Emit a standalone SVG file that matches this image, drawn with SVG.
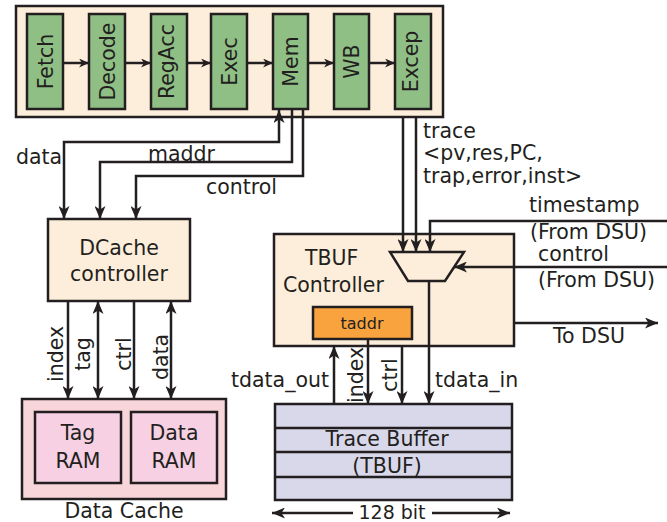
<svg xmlns="http://www.w3.org/2000/svg" width="667" height="522" viewBox="0 0 667 522">
  <style>
    text { font-family: "DejaVu Sans", "Liberation Sans", sans-serif; font-size: 20.5px; fill: #231f20; }
    .box { stroke: #231f20; stroke-width: 2.5; }
    .peach { fill: #fdeedb; }
    .stage { fill: #8fbf84; stroke: #231f20; stroke-width: 2.5; }
    .wire { fill: none; stroke: #231f20; stroke-width: 2.5; }
    .mid { text-anchor: middle; }
  </style>
  <defs>
    <marker id="ah" markerUnits="userSpaceOnUse" markerWidth="14" markerHeight="11" refX="13" refY="5.5" orient="auto-start-reverse" viewBox="0 0 14 11">
      <path d="M0,0 L13,5.5 L0,11 L3.5,5.5 z" fill="#231f20"/>
    </marker>
    <marker id="ahs" markerUnits="userSpaceOnUse" markerWidth="11" markerHeight="9" refX="10" refY="4.5" orient="auto" viewBox="0 0 11 9">
      <path d="M0,0 L10,4.5 L0,9 L3,4.5 z" fill="#231f20"/>
    </marker>
  </defs>

  <!-- pipeline -->
  <g id="pipeline">
    <rect class="box peach" x="16" y="6" width="427" height="111"/>
  </g>
  <g id="fetch"><rect class="stage" x="27" y="14" width="36" height="95"/><text class="mid" transform="translate(52.8,61.5) rotate(-90)">Fetch</text></g>
  <g id="decode"><rect class="stage" x="89" y="14" width="36" height="95"/><text class="mid" transform="translate(114.8,61.5) rotate(-90)">Decode</text></g>
  <g id="regacc"><rect class="stage" x="151" y="14" width="36" height="95"/><text class="mid" transform="translate(174.1,61.5) rotate(-90)">RegAcc</text></g>
  <g id="exec"><rect class="stage" x="211" y="14" width="36" height="95"/><text class="mid" transform="translate(236.5,61.5) rotate(-90)">Exec</text></g>
  <g id="mem"><rect class="stage" x="273" y="14" width="35" height="95"/><text class="mid" transform="translate(298,61.5) rotate(-90)">Mem</text></g>
  <g id="wb"><rect class="stage" x="334" y="14" width="35" height="95"/><text class="mid" transform="translate(359,61.5) rotate(-90)">WB</text></g>
  <g id="excep"><rect class="stage" x="395" y="14" width="36" height="95"/><text class="mid" transform="translate(418.1,61.5) rotate(-90)">Excep</text></g>

  <!-- data cache controller -->
  <g id="dcache-ctrl">
    <rect class="box peach" x="48" y="219" width="142" height="82"/>
    <text class="mid" x="119" y="255">DCache</text>
    <text class="mid" x="119" y="281">controller</text>
  </g>

  <!-- data cache -->
  <g id="data-cache">
    <rect class="box" fill="#f8d5d9" x="22" y="399" width="204" height="100"/>
    <text class="mid" x="124" y="518">Data Cache</text>
  </g>
  <g id="tag-ram">
    <rect class="box" fill="#f7d1e3" x="35" y="412" width="86" height="71"/>
    <text class="mid" x="78" y="440">Tag</text>
    <text class="mid" x="78" y="468">RAM</text>
  </g>
  <g id="data-ram">
    <rect class="box" fill="#f7d1e3" x="131" y="412" width="86" height="71"/>
    <text class="mid" x="174" y="440">Data</text>
    <text class="mid" x="174" y="468">RAM</text>
  </g>

  <!-- trace buffer controller -->
  <g id="tbuf-ctrl">
    <rect class="box peach" x="274" y="234" width="240" height="112"/>
    <text x="305" y="265">TBUF</text>
    <text x="283" y="292">Controller</text>
  </g>
  <g id="mux">
    <polygon class="box peach" points="390,252 464,252 445,281 408,281"/>
  </g>
  <g id="taddr">
    <rect class="box" fill="#f8a33d" x="313" y="307" width="99" height="32"/>
    <text class="mid" x="362" y="329" style="font-size:16px">taddr</text>
  </g>

  <!-- trace buffer -->
  <g id="trace-buffer">
    <rect class="box" fill="#d9d7ea" x="275" y="404" width="237" height="96"/>
    <path class="wire" d="M275,428 H512 M275,452 H512 M275,477 H512" stroke-width="2"/>
    <text class="mid" x="387" y="446">Trace Buffer</text>
    <text class="mid" x="387" y="473">(TBUF)</text>
  </g>

  <g id="connectors">
    <!-- pipeline stage flow -->
    <path class="wire" marker-end="url(#ahs)" d="M63,63 H89"/>
    <path class="wire" marker-end="url(#ahs)" d="M125,63 H151"/>
    <path class="wire" marker-end="url(#ahs)" d="M187,63 H211"/>
    <path class="wire" marker-end="url(#ahs)" d="M247,63 H273"/>
    <path class="wire" marker-end="url(#ahs)" d="M308,63 H334"/>
    <path class="wire" marker-end="url(#ahs)" d="M369,63 H395"/>

    <!-- Mem to DCache controller -->
    <path class="wire" marker-start="url(#ah)" marker-end="url(#ah)" d="M279,110 V142 H64 V219"/>
    <path class="wire" marker-end="url(#ah)" d="M292,109 V162 H100 V219"/>
    <path class="wire" marker-end="url(#ah)" d="M303,109 V176 H136 V219"/>

    <!-- DCache controller to Data Cache -->
    <path class="wire" marker-end="url(#ah)" d="M68,301 V399"/>
    <path class="wire" marker-start="url(#ah)" marker-end="url(#ah)" d="M98,301 V399"/>
    <path class="wire" marker-end="url(#ah)" d="M134,301 V399"/>
    <path class="wire" marker-start="url(#ah)" marker-end="url(#ah)" d="M171,301 V399"/>

    <!-- trace into mux -->
    <path class="wire" marker-end="url(#ah)" d="M403,117 V252"/>
    <path class="wire" marker-end="url(#ah)" d="M416,117 V252"/>
    <path class="wire" marker-end="url(#ah)" d="M667,221 H430 V252"/>
    <path class="wire" marker-end="url(#ah)" d="M667,267 H454"/>

    <!-- TBUF controller outputs -->
    <path class="wire" marker-end="url(#ah)" d="M514,323 H658"/>
    <path class="wire" marker-end="url(#ah)" d="M429,281 V404"/>
    <path class="wire" marker-end="url(#ah)" d="M334,404 V346"/>
    <path class="wire" marker-end="url(#ah)" d="M368,339 V404"/>
    <path class="wire" marker-end="url(#ah)" d="M402,346 V404"/>

    <!-- width marker -->
    <path class="wire" marker-end="url(#ah)" d="M353,513 H272"/>
    <path class="wire" marker-end="url(#ah)" d="M432,513 H510"/>
  </g>

  <!-- labels -->
  <g id="labels">
    <text x="16" y="164">data</text>
    <text x="148" y="161">maddr</text>
    <text x="206" y="194">control</text>
    <text x="423" y="138">trace</text>
    <text x="423" y="160">&lt;pv,res,PC,</text>
    <text x="423" y="183">trap,error,inst&gt;</text>
    <text x="529" y="212">timestamp</text>
    <text x="530" y="239">(From DSU)</text>
    <text x="538" y="261">control</text>
    <text x="538" y="287">(From DSU)</text>
    <text x="553" y="343">To DSU</text>
    <text x="329" y="387" text-anchor="end">tdata_out</text>
    <text x="435" y="387">tdata_in</text>
    <text class="mid" transform="translate(363,375) rotate(-90)">index</text>
    <text class="mid" transform="translate(397,375) rotate(-90)">ctrl</text>
    <text class="mid" transform="translate(63,354) rotate(-90)">index</text>
    <text class="mid" transform="translate(90,354) rotate(-90)">tag</text>
    <text class="mid" transform="translate(131,354) rotate(-90)">ctrl</text>
    <text class="mid" transform="translate(168,357) rotate(-90)">data</text>
    <text class="mid" x="392" y="519" style="font-size:19px">128 bit</text>
  </g>
</svg>
